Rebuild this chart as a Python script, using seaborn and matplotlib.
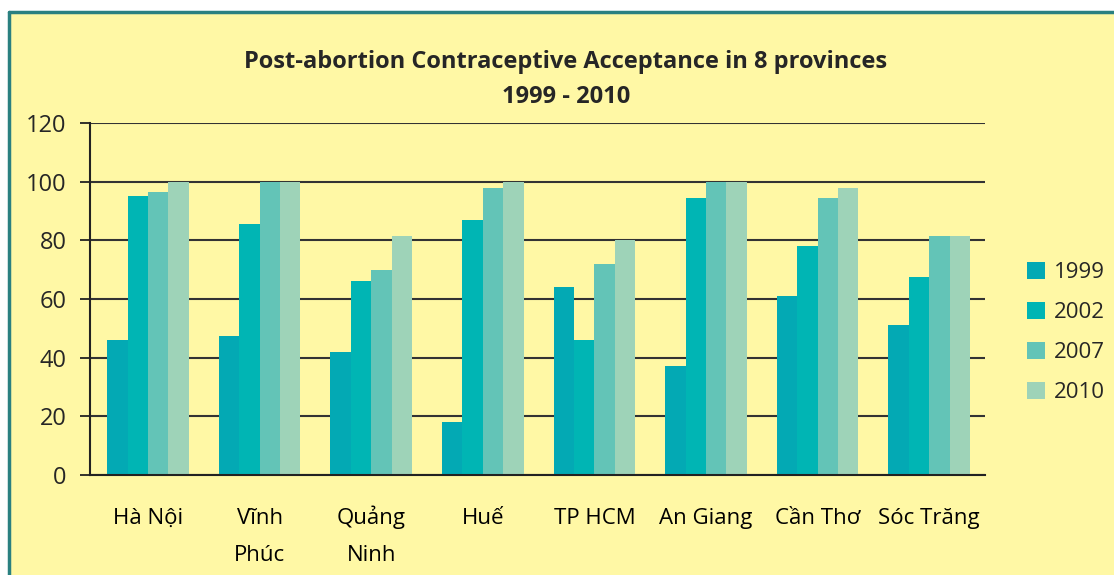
import pandas as pd
import numpy as np
import matplotlib
matplotlib.use('Agg')
import matplotlib.pyplot as plt
import seaborn as sns
from matplotlib.patches import Rectangle
from matplotlib.lines import Line2D

provinces = ['Hà Nội', 'Vĩnh\nPhúc', 'Quảng\nNinh', 'Huế', 'TP HCM', 'An Giang', 'Cần Thơ', 'Sóc Trăng']
years = ['1999', '2002', '2007', '2010']
v1999 = [46, 47.5, 42, 18, 64, 37, 61, 51]
v2002 = [95, 85.5, 66, 87, 46, 94.5, 78, 67.5]
v2007 = [96.5, 100, 70, 98, 72, 100, 94.5, 81.5]
v2010 = [100, 100, 81.5, 100, 80, 100, 98, 81.5]
colors = ['#03A9B4', '#00B5B4', '#63C4B7', '#9ED3B8']

df = pd.DataFrame({'province': provinces * 4,
                   'year': np.repeat(years, len(provinces)),
                   'value': v1999 + v2002 + v2007 + v2010})

yellow = '#FFF8A5'
sns.set_theme(style='white')
plt.rcParams['font.family'] = ['Open Sans', 'DejaVu Sans']

fig = plt.figure(figsize=(11.14, 5.75), dpi=100, facecolor='white')
# yellow panel with teal frame on top/left
fx, fy = 9/1114, 1 - 12/575
fig.add_artist(Rectangle((fx, 0), 1, fy, transform=fig.transFigure,
                         facecolor=yellow, edgecolor='none', zorder=-10))
fig.add_artist(Line2D([fx, 1], [fy, fy], transform=fig.transFigure, color='#2A8080', lw=2.5))
fig.add_artist(Line2D([fx, fx], [0, fy], transform=fig.transFigure, color='#2A8080', lw=2.5))

ax = fig.add_axes([90/1114, 1 - 475/575, (985 - 90)/1114, (475 - 123)/575])
ax.set_facecolor(yellow)

sns.barplot(data=df, x='province', y='value', hue='year', palette=colors,
            width=0.73, saturation=1, ax=ax, linewidth=0, edgecolor='none')

ax.set_ylim(0, 120)
ax.set_xlim(-0.52, len(provinces) - 0.52)
ax.set_yticks(range(0, 121, 20))
ax.yaxis.grid(True, color='#333333', lw=1.5)
ax.set_axisbelow(True)
ax.set_xlabel('')
ax.set_ylabel('')
for s in ['top', 'right']:
    ax.spines[s].set_visible(False)
for s in ['left', 'bottom']:
    ax.spines[s].set_color('#222222')
    ax.spines[s].set_linewidth(1.5)

# every label gets two lines so that baselines line up across categories
ax.set_xticks(range(len(provinces)))
ax.set_xticklabels([p if '\n' in p else p + '\n ' for p in provinces])
ax.set_xticks(np.arange(-0.5, len(provinces), 1), minor=True)
ax.tick_params(axis='x', which='major', length=0, pad=62, labelsize=16, colors='black')
ax.tick_params(axis='x', which='minor', length=8, width=1.3, color='#222222', direction='out')
ax.tick_params(axis='y', length=7, width=1.3, color='#222222', direction='out',
               labelsize=17, pad=10, left=True)
for lbl in ax.get_xticklabels():
    lbl.set_verticalalignment('baseline')
    lbl.set_linespacing(2.0)

leg = ax.legend(loc='center left', bbox_to_anchor=(1.025, 0.405), frameon=False,
                fontsize=16, handlelength=0.8, handleheight=0.8, handletextpad=0.4,
                labelspacing=0.85)

fig.text(566/1114, 1 - 62/575, 'Post-abortion Contraceptive Acceptance in 8 provinces',
         ha='center', va='center', fontsize=17, fontweight='bold')
fig.text(566/1114, 1 - 97/575, '1999 - 2010', ha='center', va='center',
         fontsize=17, fontweight='bold')

fig.savefig('out.png', dpi=100, facecolor=fig.get_facecolor())
